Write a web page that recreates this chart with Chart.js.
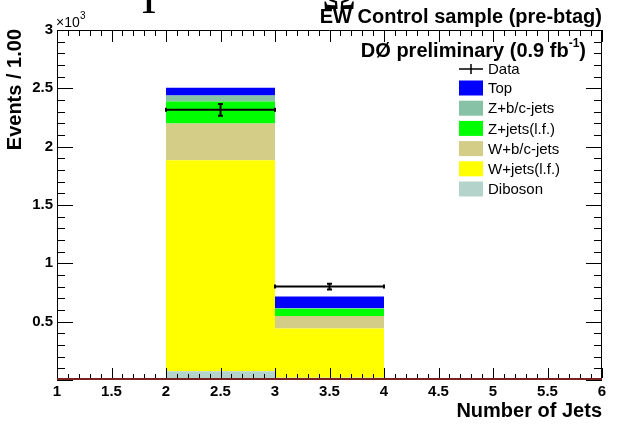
<!DOCTYPE html>
<html>
<head>
<meta charset="utf-8">
<script src="https://cdn.jsdelivr.net/npm/chart.js@4.4.1/dist/chart.umd.min.js"></script>
<style>
  html, body { margin: 0; padding: 0; background: #fff; }
  canvas { display: block; }
</style>
</head>
<body>
<canvas id="jets-chart" width="624" height="426"></canvas>
<script>
// bin centres (Number of Jets), bins are 1 wide
const binCenters = [2.5, 3.5];

// stacked MC samples, bottom to top
const diboson = [75, 20];
const wJetsLF = [1809, 421];
const wBCJets = [315, 107];
const zJetsLF = [188, 63];
const zBCJets = [51, 5];
const topQuark = [68, 100];

// data with statistical errors
const dataValues = [2316, 801];
const dataErrors = [50, 25];

const xTickValues = [1, 1.5, 2, 2.5, 3, 3.5, 4, 4.5, 5, 5.5, 6];

const FONT = '"Liberation Sans", Arial, sans-serif';

function toPoints(values) {
    return values.map((v, i) => ({ x: binCenters[i], y: v }));
}

const samples = [
    { label: 'Diboson', values: diboson, color: '#b3d3cb' },
    { label: 'W+jets(l.f.)', values: wJetsLF, color: '#ffff00' },
    { label: 'W+b/c-jets', values: wBCJets, color: '#d3cd88' },
    { label: 'Z+jets(l.f.)', values: zJetsLF, color: '#00ff00' },
    { label: 'Z+b/c-jets', values: zBCJets, color: '#88c2a6' },
    { label: 'Top', values: topQuark, color: '#0000ff' }
];

// frame, ROOT style ticks on all four sides, data points and text
const decorations = {
    id: 'decorations',
    afterDatasetsDraw(chart) {
        const ctx = chart.ctx;
        const a = chart.chartArea;
        const xs = chart.scales.x;
        const ys = chart.scales.y;
        ctx.save();

        // data points with error bars
        ctx.strokeStyle = '#000';
        ctx.lineWidth = 2;
        dataValues.forEach((v, i) => {
            const xl = xs.getPixelForValue(binCenters[i] - 0.5);
            const xr = xs.getPixelForValue(binCenters[i] + 0.5);
            const xc = xs.getPixelForValue(binCenters[i]);
            const y = ys.getPixelForValue(v);
            const yLo = ys.getPixelForValue(v - dataErrors[i]);
            const yHi = ys.getPixelForValue(v + dataErrors[i]);
            ctx.beginPath();
            ctx.moveTo(xl, y); ctx.lineTo(xr, y);
            ctx.moveTo(xc, yLo); ctx.lineTo(xc, yHi);
            ctx.moveTo(xc - 2.5, yLo); ctx.lineTo(xc + 2.5, yLo);
            ctx.moveTo(xc - 2.5, yHi); ctx.lineTo(xc + 2.5, yHi);
            ctx.moveTo(xl, y - 2); ctx.lineTo(xl, y + 2);
            ctx.moveTo(xr, y - 2); ctx.lineTo(xr, y + 2);
            ctx.stroke();
        });

        // frame
        ctx.lineWidth = 1;
        ctx.strokeStyle = '#000';
        ctx.beginPath();
        ctx.moveTo(a.left + 0.5, a.bottom);
        ctx.lineTo(a.left + 0.5, a.top + 0.5);
        ctx.lineTo(a.right - 0.5, a.top + 0.5);
        ctx.lineTo(a.right - 0.5, a.bottom);
        ctx.stroke();
        ctx.strokeStyle = '#7a2222';
        ctx.lineWidth = 2;
        ctx.beginPath();
        ctx.moveTo(a.left, a.bottom - 1);
        ctx.lineTo(a.right, a.bottom - 1);
        ctx.stroke();

        // ticks
        ctx.strokeStyle = '#000';
        ctx.lineWidth = 1;
        ctx.beginPath();
        for (let k = 10; k <= 60; k++) {
            const v = k / 10;
            const px = Math.round(xs.getPixelForValue(v)) + 0.5;
            const len = k % 5 === 0 ? 12 : 6;
            ctx.moveTo(px, a.bottom - 2); ctx.lineTo(px, a.bottom - len);
            ctx.moveTo(px, a.top); ctx.lineTo(px, a.top + len);
        }
        for (let k = 0; k <= 30; k++) {
            const v = k * 100;
            const py = Math.round(ys.getPixelForValue(v)) + 0.5;
            const len = k % 5 === 0 ? 16 : 8;
            ctx.moveTo(a.left, py); ctx.lineTo(a.left + len, py);
            ctx.moveTo(a.right, py); ctx.lineTo(a.right - len, py);
        }
        ctx.stroke();

        // exponent of the y axis
        ctx.fillStyle = '#000';
        ctx.textBaseline = 'alphabetic';
        ctx.textAlign = 'left';
        ctx.font = '14px ' + FONT;
        ctx.fillText('\u00d710', a.left - 1, a.top - 3);
        ctx.font = '10px ' + FONT;
        ctx.fillText('3', a.left + 23, a.top - 11);

        // axis titles
        ctx.font = 'bold 20px ' + FONT;
        ctx.textAlign = 'right';
        ctx.fillText('Number of Jets', a.right, 417);
        ctx.save();
        ctx.translate(21, a.top - 1);
        ctx.rotate(-Math.PI / 2);
        ctx.fillText('Events / 1.00', 0, 0);
        ctx.restore();

        // headers
        ctx.font = 'bold 20px ' + FONT;
        ctx.fillText('EW Control sample (pre-btag)', a.right, 23);
        ctx.fillText(')', 586, 57);
        const wParen = ctx.measureText(')').width;
        ctx.font = 'bold 12px ' + FONT;
        ctx.fillText('-1', 586 - wParen, 47);
        const wSup = ctx.measureText('-1').width;
        ctx.font = 'bold 20px ' + FONT;
        ctx.fillText('D\u00d8 preliminary (0.9 fb', 586 - wParen - wSup, 57);

        // partly cut heading glyphs at the very top
        ctx.font = '46px "Liberation Serif", serif';
        ctx.textAlign = 'center';
        ctx.fillText('I', 149, 13);
        ctx.fillText('\u03a9', 339, 9);

        // legend
        ctx.textAlign = 'left';
        ctx.textBaseline = 'middle';
        ctx.font = '15px ' + FONT;
        const lx = 459, bw = 24, bh = 15;
        ctx.strokeStyle = '#000';
        ctx.lineWidth = 1.5;
        ctx.beginPath();
        ctx.moveTo(lx, 69); ctx.lineTo(lx + bw, 69);
        ctx.moveTo(lx + bw / 2, 64); ctx.lineTo(lx + bw / 2, 74);
        ctx.stroke();
        ctx.fillText('Data', 488, 70);
        const order = samples.slice().reverse();
        order.forEach((s, i) => {
            const cy = 88 + i * 20.2;
            ctx.fillStyle = s.color;
            ctx.fillRect(lx, cy - bh / 2, bw, bh);
            ctx.fillStyle = '#000';
            ctx.fillText(s.label, 488, cy + 1);
        });

        ctx.restore();
    }
};

const ctx = document.getElementById('jets-chart').getContext('2d');
const jetsChart = new Chart(ctx, {
    type: 'bar',
    data: {
        datasets: samples.map(s => ({
            label: s.label,
            data: toPoints(s.values),
            backgroundColor: s.color,
            borderWidth: 0,
            // bar width follows the 0.5 tick spacing, so 2x fills a 1-wide bin
            barPercentage: 2.0,
            categoryPercentage: 1.0
        }))
    },
    options: {
        responsive: false,
        animation: false,
        devicePixelRatio: 1,
        layout: { padding: { left: 0, top: 30, right: 22, bottom: 0 } },
        scales: {
            x: {
                type: 'linear',
                min: 1,
                max: 6,
                offset: false,
                stacked: true,
                grid: { display: false, drawTicks: false, offset: false },
                border: { display: false },
                afterBuildTicks: scale => {
                    scale.ticks = xTickValues.map(v => ({ value: v }));
                },
                afterFit: scale => { scale.height = 46; },
                ticks: {
                    color: '#000',
                    padding: 3,
                    maxRotation: 0,
                    autoSkip: false,
                    font: { family: FONT, size: 15, weight: 'bold' },
                    callback: v => String(v)
                }
            },
            y: {
                min: 0,
                max: 3000,
                stacked: true,
                grid: { display: false, drawTicks: false },
                border: { display: false },
                afterFit: scale => { scale.width = 57; },
                ticks: {
                    stepSize: 500,
                    color: '#000',
                    padding: 4,
                    font: { family: FONT, size: 15, weight: 'bold' },
                    callback: v => (v === 0 ? '' : String(v / 1000))
                }
            }
        },
        plugins: {
            legend: { display: false },
            tooltip: { enabled: false }
        }
    },
    plugins: [decorations]
});
</script>
</body>
</html>
